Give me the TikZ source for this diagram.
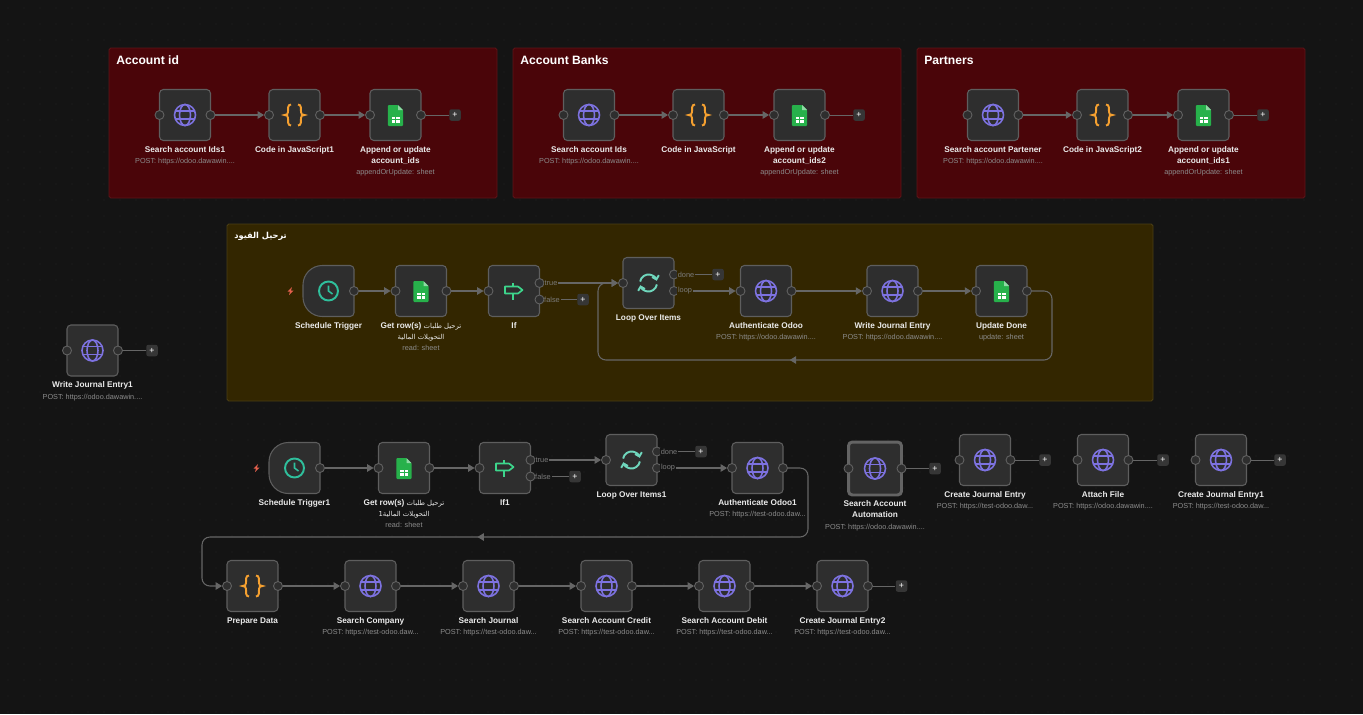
\documentclass[tikz,border=0pt]{standalone}
\usepackage{fontspec}
\setmainfont{Liberation Sans}
\newfontfamily\arabicfont[Script=Arabic]{DejaVu Sans}
\TeXXeTstate=1
\usetikzlibrary{arrows.meta}
\usetikzlibrary{calc,positioning}
\usetikzlibrary{decorations.markings}
\definecolor{canvasbg}{HTML}{141414}
\definecolor{griddot}{HTML}{242424}
\definecolor{redgroup}{HTML}{4A0509}
\definecolor{redline}{HTML}{5E1418}
\definecolor{yellowgroup}{HTML}{332600}
\definecolor{yellowline}{HTML}{4C3F14}
\definecolor{boxfill}{HTML}{2E2E2E}
\definecolor{boxline}{HTML}{5E5E5E}
\definecolor{chosenline}{HTML}{646464}
\definecolor{portline}{HTML}{626262}
\definecolor{plusfill}{HTML}{363636}
\definecolor{wirecol}{HTML}{666666}
\definecolor{branchcol}{HTML}{7C7C7C}
\definecolor{globecol}{HTML}{7D72E0}
\definecolor{codecol}{HTML}{F5A030}
\definecolor{sheetcol}{HTML}{27B14B}
\definecolor{foldcol}{HTML}{8FD9A4}
\definecolor{clockcol}{HTML}{2FBF9C}
\definecolor{signcol}{HTML}{3DD68C}
\definecolor{loopcol}{HTML}{6FD6BC}
\definecolor{boltcol}{HTML}{E5604D}
\definecolor{subcol}{HTML}{8C8C8C}
\tikzset{
    box/.style={rectangle,draw=boxline,fill=boxfill,line width=.6pt,rounded corners=2.2pt,
        minimum size=1.02cm,inner sep=0pt,outer sep=0pt},
    chosen/.style={box,draw=chosenline,line width=1.7pt,minimum size=1.06cm},
    trigger/.style={rectangle,minimum size=1.02cm,inner sep=0pt,outer sep=0pt},
    port/.style={circle,draw=portline,fill=boxfill,line width=.5pt,minimum size=.18cm,inner sep=0pt},
    plusbtn/.style={rectangle,fill=plusfill,text=white,rounded corners=1.2pt,minimum size=.23cm,
        inner sep=0pt,font=\fontsize{5}{5}\selectfont},
    titletext/.style={inner sep=0pt,align=center,text=white!92!black,
        font=\fontsize{4.7}{6.2}\selectfont\bfseries},
    subtext/.style={inner sep=0pt,text=subcol,font=\fontsize{4.15}{6}\selectfont},
    grouptext/.style={inner sep=0pt,text=white,font=\fontsize{6.9}{8}\selectfont\bfseries},
    branchtext/.style={inner sep=.4pt,text=branchcol,font=\fontsize{4.2}{4.5}\selectfont},
    wire/.style={draw=wirecol,line width=.6pt,-{Triangle[length=3.6pt,width=4.2pt]}},
    stub/.style={draw=wirecol,line width=.55pt},
    backwire/.style={wire,rounded corners=4.5pt,decoration={markings,
        mark=at position .55 with {\arrow{Triangle[length=3.6pt,width=4.2pt]}}},postaction={decorate}},
    pics/globe/.style={code={
        \draw[globecol,line width=.9pt] (0,0) circle [radius=10.5];
        \draw[globecol,line width=.9pt] (0,0) ellipse [x radius=5.5,y radius=10.5];
        \draw[globecol,line width=.9pt] (-9.6,-4) -- (9.6,-4) (-9.6,4) -- (9.6,4);
    }},
    pics/braces/.style={code={
        \foreach \side in {1,-1}
        {\draw[codecol,line width=1.1pt,xscale=\side] (-3.5,-10.5) .. controls (-7,-10.5) and (-6.5,-6) .. (-6.5,-3)
            .. controls (-6.5,-1) and (-7.5,0) .. (-10,0) .. controls (-7.5,0) and (-6.5,1) .. (-6.5,3)
            .. controls (-6.5,6) and (-7,10.5) .. (-3.5,10.5);}
    }},
    pics/sheet/.style={code={
        \fill[sheetcol,rounded corners=.6pt] (-7.7,-10) -- (2.5,-10) -- (7.7,-4.8) -- (7.7,11) -- (-7.7,11) -- cycle;
        \fill[foldcol] (2.5,-10) -- (7.7,-4.8) -- (2.5,-4.8) -- cycle;
        \fill[white] (-4,1.5) rectangle (4,7.5);
        \draw[sheetcol,line width=.4pt] (0,1.5) -- (0,7.5) (-4,4.5) -- (4,4.5);
    }},
    pics/clock/.style={code={
        \draw[boxline,fill=boxfill,line width=.6pt,rounded corners=2.2pt] (0,-25.5) -- (25.5,-25.5) -- (25.5,25.5)
            -- (0,25.5) [rounded corners=11pt] -- (-25.5,25.5) -- (-25.5,-25.5) -- (0,-25.5);
        \draw[clockcol,line width=1.1pt] (0,0) circle [radius=9.5];
        \draw[clockcol,line width=.9pt] (0,-5.5) -- (0,0) -- (4,3);
        \fill[boltcol] (-36.5,-4) -- (-41,.5) -- (-38.5,.5) -- (-39.5,4) -- (-35,-.5) -- (-37.5,-.5) -- cycle;
    }},
    pics/sign/.style={code={
        \draw[signcol,line width=.95pt,line join=round] (-9,-4.5) -- (4,-4.5) -- (8.5,-1) -- (4,2.5) -- (-9,2.5) -- cycle;
        \draw[signcol,line width=.95pt] (-1,-8) -- (-1,-4.5) (-1,2.5) -- (-1,9);
    }},
    pics/sync/.style={code={
        \draw[loopcol,line width=1.1pt,-{Straight Barb[length=2pt,width=4pt]}] (190:8.5) arc [start angle=190,end angle=345,radius=8.5];
        \draw[loopcol,line width=1.1pt,-{Straight Barb[length=2pt,width=4pt]}] (10:8.5) arc [start angle=10,end angle=165,radius=8.5];
    }},
}
% texts that come back often
\newcommand{\postodoo}{POST: https:\slash\slash odoo.dawawin....}
\newcommand{\posttest}{POST: https:\slash\slash test-odoo.daw...}
\newcommand{\rowsar}{Get row(s) {\arabicfont\mdseries\fontsize{3.9}{6}\selectfont\beginR ترحيل طلبات\endR}}
\newcommand{\rowsbr}{{\arabicfont\mdseries\fontsize{3.9}{6}\selectfont\beginR التحويلات المالية\endR}}
\newcommand{\rowsbrone}{{\arabicfont\mdseries\fontsize{3.9}{6}\selectfont\beginR التحويلات المالية1\endR}}
\begin{document}
\begin{tikzpicture}[x=.02cm,y=-.02cm]
\useasboundingbox (0,0) rectangle (1363,714);
\fill[canvasbg] (0,0) rectangle (1363,714);
\foreach \i in {8,24,...,1363}
    {\foreach \j in {8,24,...,714}
    {\fill[griddot] (\i,\j) circle [radius=.6];}}
%groups
\draw[fill=redgroup,draw=redline,line width=.5pt,rounded corners=1pt] (109,48) rectangle (497,198);
\draw[fill=redgroup,draw=redline,line width=.5pt,rounded corners=1pt] (513,48) rectangle (901,198);
\draw[fill=redgroup,draw=redline,line width=.5pt,rounded corners=1pt] (917,48) rectangle (1305,198);
\draw[fill=yellowgroup,draw=yellowline,line width=.5pt,rounded corners=1pt] (227,224) rectangle (1153,401);
\node[grouptext,anchor=west] (g1) at (116,60.5) {Account id};
\node[grouptext,anchor=west] (g2) at (520,60.5) {Account Banks};
\node[grouptext,anchor=west] (g3) at (924,60.5) {Partners};
\node[grouptext,anchor=west] (g4) at (234,236.5) {\arabicfont\fontsize{4.7}{7}\selectfont\beginR ترحيل القيود\endR};
%nodes and their icons
\foreach \n/\s/\x/\y/\ic/\ti in {
    a1/box/185/115/globe/{Search account Ids1},
    a2/box/294.5/115/braces/{Code in JavaScript1},
    a3/box/395.5/115/sheet/{Append or update\\account\_ids},
    b1/box/589/115/globe/{Search account Ids},
    b2/box/698.5/115/braces/{Code in JavaScript},
    b3/box/799.5/115/sheet/{Append or update\\account\_ids2},
    c1/box/993/115/globe/{Search account Partener},
    c2/box/1102.5/115/braces/{Code in JavaScript2},
    c3/box/1203.5/115/sheet/{Append or update\\account\_ids1},
    st/trigger/328.5/291/clock/{Schedule Trigger},
    gr/box/421/291/sheet/{\rowsar\\\rowsbr},
    if/box/514/291/sign/{If},
    lo/box/648.5/283/sync/{Loop Over Items},
    au/box/766/291/globe/{Authenticate Odoo},
    wr/box/892.5/291/globe/{Write Journal Entry},
    up/box/1001.5/291/sheet/{Update Done},
    we/box/92.5/350.5/globe/{Write Journal Entry1},
    sta/trigger/294.5/468/clock/{Schedule Trigger1},
    gra/box/404/468/sheet/{\rowsar\\\rowsbrone},
    ifa/box/505/468/sign/{If1},
    loa/box/631.5/460/sync/{Loop Over Items1},
    aua/box/757.5/468/globe/{Authenticate Odoo1},
    sa/chosen/875/468.5/globe/{Search Account\\Automation},
    cj/box/985/460/globe/{Create Journal Entry},
    af/box/1103/460/globe/{Attach File},
    cja/box/1221/460/globe/{Create Journal Entry1},
    pd/box/252.5/586/braces/{Prepare Data},
    sc/box/370.5/586/globe/{Search Company},
    sj/box/488.5/586/globe/{Search Journal},
    scr/box/606.5/586/globe/{Search Account Credit},
    sd/box/724.5/586/globe/{Search Account Debit},
    cjb/box/842.5/586/globe/{Create Journal Entry2}}
{
    \node[\s] (\n) at (\x,\y) {};
    \pic at (\n) {\ic};
    \node[titletext,below=.08cm of \n] (\n-t) {\strut\ti\strut};
}
%second lines
\foreach \n/\su in {a1/\postodoo,a3/{appendOrUpdate: sheet},b1/\postodoo,b3/{appendOrUpdate: sheet},
    c1/\postodoo,c3/{appendOrUpdate: sheet},gr/{read: sheet},au/\postodoo,wr/\postodoo,up/{update: sheet},
    we/\postodoo,gra/{read: sheet},aua/\posttest,sa/\postodoo,cj/\posttest,af/\postodoo,cja/\posttest,
    sc/\posttest,sj/\posttest,scr/\posttest,sd/\posttest,cjb/\posttest}
{\node[subtext,below=0pt of \n-t] (\n-s) {\strut\su\strut};}
%ports
\foreach \n in {a1,a2,a3,b1,b2,b3,c1,c2,c3,gr,if,lo,au,wr,up,we,gra,ifa,loa,aua,sa,cj,af,cja,pd,sc,sj,scr,sd,cjb}
{\node[port] (\n-i) at (\n.west) {};}
\foreach \n in {a1,a2,a3,b1,b2,b3,c1,c2,c3,st,gr,au,wr,up,we,sta,gra,aua,sa,cj,af,cja,pd,sc,sj,scr,sd,cjb}
{\node[port] (\n-o) at (\n.east) {};}
\foreach \n/\a/\b in {if/-8/8.5,lo/-8.5/8,ifa/-8/8.5,loa/-8.5/8}
{
    \node[port] (\n-y) at ($(\n.east)+(0,\a)$) {};
    \node[port] (\n-z) at ($(\n.east)+(0,\b)$) {};
}
%plus buttons
\foreach \n/\x/\y in {a3/455/115,b3/859/115,c3/1263/115,if/583/299.5,lo/718/274.5,we/152/350.5,
    ifa/575/476.5,loa/701/451.5,sa/935/468.5,cj/1045/460,af/1163/460,cja/1280/460,cjb/901.5/586}
{\node[plusbtn] (\n-p) at (\x,\y) {+};}
%connectors
\foreach \from/\to in {a1/a2,a2/a3,b1/b2,b2/b3,c1/c2,c2/c3,st/gr,gr/if,au/wr,wr/up,
    sta/gra,gra/ifa,pd/sc,sc/sj,sj/scr,scr/sd,sd/cjb}
{\draw[wire] (\from-o) -- (\to-i);}
\draw[wire] (if-y) -- (lo-i);
\draw[wire] (lo-z) -- (au-i);
\draw[wire] (ifa-y) -- (loa-i);
\draw[wire] (loa-z) -- (aua-i);
\foreach \n in {a3,b3,c3,we,sa,cj,af,cja,cjb}
{\draw[stub] (\n-o) -- (\n-p);}
\foreach \n in {if,ifa}
{\draw[stub] (\n-z) -- (\n-p);}
\foreach \n in {lo,loa}
{\draw[stub] (\n-y) -- (\n-p);}
% lines that come back
\draw[backwire] (up-o) -- (1052,291) -- (1052,360) -- (598,360) -- (598,283) -- (lo-i);
\draw[backwire] (aua-o) -- (808,468) -- (808,537) -- (202,537) -- (202,586) -- (pd-i);
%branch names
\node[branchtext,fill=yellowgroup] (if-a) at (551,283) {true};
\node[branchtext,fill=yellowgroup] (if-b) at (552,299.5) {false};
\node[branchtext,fill=yellowgroup] (lo-a) at (686,274.5) {done};
\node[branchtext,fill=yellowgroup] (lo-b) at (685,291) {loop};
\node[branchtext,fill=canvasbg] (ifa-a) at (542,460) {true};
\node[branchtext,fill=canvasbg] (ifa-b) at (543,476.5) {false};
\node[branchtext,fill=canvasbg] (loa-a) at (669,451.5) {done};
\node[branchtext,fill=canvasbg] (loa-b) at (668,468) {loop};
\end{tikzpicture}
\end{document}
